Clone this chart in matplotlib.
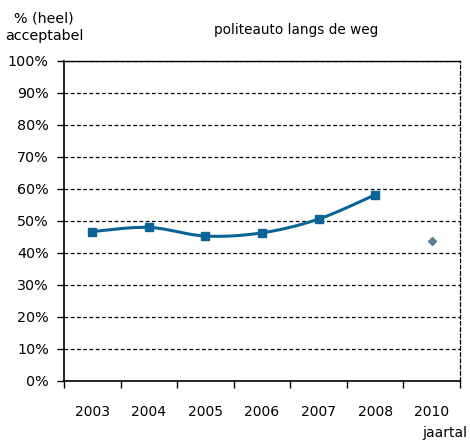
import numpy as np
import matplotlib.pyplot as plt

years = ['2003', '2004', '2005', '2006', '2007', '2008', '2010']
trend = [46.7, 48.0, 45.3, 46.3, 50.6, 58.2]
last = 43.7
blue = '#0b6496'


def smooth(x, y, n=30):
    # Excel-style smoothed line (Catmull-Rom through the points)
    x = np.asarray(x, float); y = np.asarray(y, float)
    px = np.r_[x[0], x, x[-1]]; py = np.r_[y[0], y, y[-1]]
    xs, ys = [], []
    t = np.linspace(0, 1, n)
    for i in range(1, len(px) - 2):
        p0, p1, p2, p3 = [np.array([px[j], py[j]]) for j in range(i - 1, i + 3)]
        c1 = p1 + (p2 - p0) / 6
        c2 = p2 - (p3 - p1) / 6
        b = ((1 - t) ** 3)[:, None] * p1 + (3 * (1 - t) ** 2 * t)[:, None] * c1 \
            + (3 * (1 - t) * t ** 2)[:, None] * c2 + (t ** 3)[:, None] * p2
        xs.extend(b[:, 0]); ys.extend(b[:, 1])
    return xs, ys


fig = plt.figure(figsize=(4.7, 4.43), dpi=100)
ax = fig.add_axes([64 / 470, 62 / 443, 396 / 470, 320 / 443])

x = np.arange(len(trend))
sx, sy = smooth(x, trend)
ax.plot(sx, sy, color=blue, lw=2.2, zorder=3)
ax.plot(x, trend, ls='none', marker='s', ms=5.5, color=blue, zorder=4)
ax.plot([len(years) - 1], [last], ls='none', marker='D', ms=4, color='#5a7f92', zorder=4)

ax.set_xlim(-0.5, len(years) - 0.5)
ax.set_ylim(0, 100)
ax.set_yticks(np.arange(0, 101, 10))
ax.set_yticklabels([f'{v}%' for v in range(0, 101, 10)], fontsize=10.3)
ax.set_xticks(np.arange(len(years) + 1) - 0.5)
ax.set_xticklabels([])
ax.set_xticks(np.arange(len(years)), minor=True)
ax.set_xticklabels(years, minor=True, fontsize=10)
ax.tick_params(axis='x', which='major', direction='out', length=5, width=1)
ax.tick_params(axis='x', which='minor', length=0, pad=17)
ax.tick_params(axis='y', direction='out', length=5, width=1, pad=6)
ax.grid(axis='y', ls=(0, (3, 2)), color='black', lw=0.9)

ax.spines['left'].set_linewidth(1.2)
ax.spines['bottom'].set_linewidth(1.2)
ax.spines['top'].set_linewidth(1.0)
ax.spines['right'].set_linestyle((0, (3, 2)))
ax.spines['right'].set_linewidth(0.9)

fig.text(44 / 470, 1 - 27 / 443, '% (heel)\nacceptabel', ha='center', va='center',
         fontsize=10.3, linespacing=1.35)
fig.text(296 / 470, 1 - 30 / 443, 'politeauto langs de weg', ha='center', va='center',
         fontsize=9.8)
fig.text(467 / 470, 1 - 433 / 443, 'jaartal', ha='right', va='center', fontsize=10)

fig.savefig('out.png', dpi=100)
